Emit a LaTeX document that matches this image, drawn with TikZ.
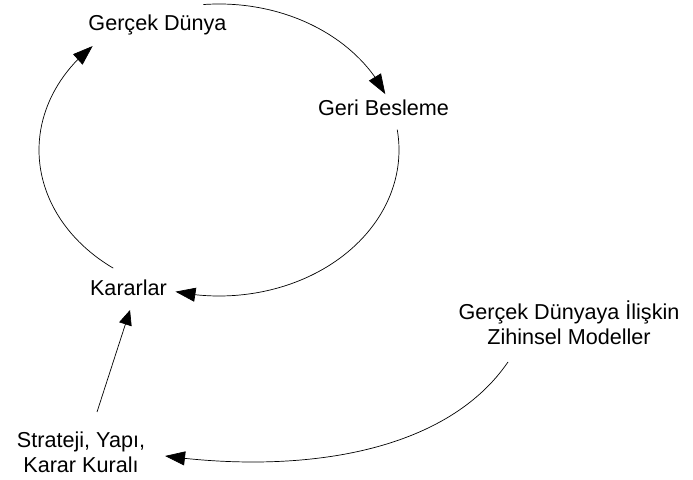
\documentclass[tikz,border=0pt]{standalone}
\usepackage{fontspec}
\setmainfont{Liberation Sans}
\usetikzlibrary{arrows.meta,bending}

\tikzset{
  label/.style={inner sep=0pt, font=\fontsize{21.6}{25}\selectfont, text=black},
  flow/.style={draw=black, line width=0.7pt,
    -{Triangle[length=20pt,width=14pt]}},
  shortflow/.style={flow, -{Triangle[length=15pt,width=13pt]}},
}

\begin{document}
\begin{tikzpicture}[x=1pt,y=1pt]
  \useasboundingbox (0,0) rectangle (693,479);
  \fill[white] (0,0) rectangle (693,479);

  % labels
  \node[label, anchor=base] (gd) at (157.5,448.5) {Gerçek Dünya};
  \node[label, anchor=base] (gb) at (383.5,363) {Geri Besleme};
  \node[label, anchor=base] (kr) at (128.5,183) {Kararlar};
  \node[label, align=center] (zm) at (569,156)
    {Gerçek Dünyaya İlişkin\\Zihinsel Modeller};
  \node[label, align=center] (st) at (81,27)
    {Strateji, Yapı,\\Karar Kuralı};

  % feedback loop: three arcs of one ellipse
  \coordinate (loop) at (219,329);
  \draw[flow] (loop) ++(95:180 and 146)
    arc[start angle=95, end angle=22.5, x radius=180, y radius=146];
  \draw[flow] (loop) ++(8:180 and 146)
    arc[start angle=8, end angle=-104, x radius=180, y radius=146];
  \draw[flow] (loop) ++(234:180 and 146)
    arc[start angle=234, end angle=134.6, x radius=180, y radius=146];

  % inputs to decisions
  \path (st.center) ++(16,40) coordinate (st-out);
  \path (kr.base) ++(1.5,-14) coordinate (kr-in);
  \draw[shortflow] (st-out) -- (kr-in);

  \path (zm.center) ++(-61,-39) coordinate (zm-out);
  \path (st.center) ++(84,-4) coordinate (st-in);
  \draw[flow] (zm-out) .. controls +(-63,-92) and +(135,-18) .. (st-in);
\end{tikzpicture}
\end{document}
